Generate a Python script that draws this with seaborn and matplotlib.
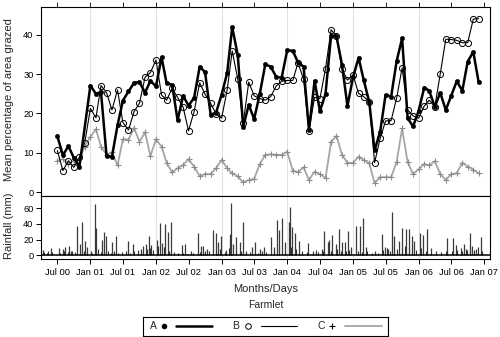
import numpy as np
import pandas as pd
import seaborn as sns
import matplotlib
matplotlib.use('Agg')
import matplotlib.pyplot as plt
import matplotlib.dates as mdates


# Mean percentage of area grazed, monthly from Jul 2000 to Dec 2006 (78 months)
meses = pd.date_range('2000-07-01', periods=78, freq='MS')

farmlet_a = [14.3, 9.4, 11.7, 8.7, 6.5, np.nan, 27.1, 25.0, 25.5, 9.2, 9.0, 17.0,
             23.3, 25.6, 27.8, 28.0, 25.3, 28.3, 26.9, 34.3, 27.7, 27.3, 18.3, 24.5,
             22.0, 24.0, 31.9, 30.5, 19.7, 20.2, 24.8, 30.3, 42.0, 34.8, 16.6, 22.2,
             18.6, 24.9, 32.5, 31.9, 29.3, 29.1, 36.1, 35.9, 33.0, 31.9, 15.8, 28.3,
             20.6, 25.0, 39.8, 39.6, 32.3, 21.9, 29.2, 34.2, 28.6, 23.0, 10.6, 15.4,
             24.7, 24.3, 33.4, 39.1, 18.8, 16.7, 20.7, 26.6, 25.8, 21.7, 25.3, 20.9,
             24.5, 28.2, 25.8, 33.2, 35.7, 27.9]

farmlet_b = [10.6, 5.5, 8.0, 6.3, 8.9, 12.6, 21.3, 18.9, 27.1, 25.3, 20.9, 26.0,
             17.7, 15.8, 20.5, 22.6, 29.2, 30.4, 33.6, 24.7, 23.4, 26.4, 24.1, 21.6,
             15.6, 20.5, 27.8, 24.9, 22.6, 19.9, 18.8, 26.0, 35.9, 28.7, 17.5, 28.0,
             24.5, 23.8, 23.4, 24.3, 27.0, 28.2, 28.4, 28.4, 32.9, 28.7, 15.6, 24.1,
             23.8, 31.4, 41.3, 39.7, 31.2, 28.5, 29.8, 25.1, 24.3, 23.0, 7.5, 13.7,
             18.1, 18.2, 24.0, 31.6, 20.9, 19.4, 18.8, 21.9, 23.4, 21.7, 30.0, 38.9,
             38.8, 38.6, 38.0, 38.0, 44.0, 44.1]

farmlet_c = [8.0, 8.4, 7.2, 8.0, 8.4, 11.6, 14.1, 16.0, 11.6, 9.5, 10.1, 6.8,
             13.5, 13.3, 16.4, 12.8, 15.2, 9.2, 13.4, 11.6, 7.5, 5.0, 6.1, 6.9,
             8.4, 6.5, 4.1, 4.6, 4.6, 6.1, 8.2, 6.1, 4.8, 4.0, 2.5, 3.1,
             3.4, 7.1, 9.5, 9.6, 9.5, 9.5, 10.3, 5.5, 5.1, 6.3, 3.1, 5.2,
             4.6, 3.6, 12.8, 14.3, 9.5, 7.4, 7.5, 9.0, 8.2, 7.4, 2.3, 3.8,
             3.8, 3.8, 7.7, 16.2, 7.6, 4.6, 5.8, 7.2, 6.8, 7.9, 4.6, 3.1,
             4.6, 4.8, 7.5, 6.5, 5.7, 4.8]

# Daily rainfall (mm), main events
chuva_datas = ['2000-04-15', '2000-05-12', '2000-05-25', '2000-07-12', '2000-07-31',
               '2000-08-13', '2000-09-02', '2000-09-17', '2000-10-17', '2000-11-04',
               '2000-11-15', '2000-12-02', '2000-12-15', '2001-01-02', '2001-01-26',
               '2001-02-01', '2001-03-04', '2001-03-19', '2001-03-28', '2001-04-29',
               '2001-05-23', '2001-07-27', '2001-08-27', '2001-09-24', '2001-10-12',
               '2001-10-22', '2001-11-09', '2001-11-22', '2001-12-07', '2002-01-07',
               '2002-01-22', '2002-02-04', '2002-02-19', '2002-03-09', '2002-03-28',
               '2002-05-26', '2002-06-12', '2002-07-17', '2002-08-23', '2002-09-08',
               '2002-09-19', '2002-10-12', '2002-11-14', '2002-11-29', '2002-12-14',
               '2002-12-28', '2003-01-27', '2003-02-14', '2003-02-22', '2003-03-05',
               '2003-03-20', '2003-04-11', '2003-04-30', '2003-05-18', '2003-06-18',
               '2003-07-03', '2003-07-31', '2003-08-24', '2003-09-30', '2003-10-17',
               '2003-11-04', '2003-11-19', '2003-12-04', '2003-12-17', '2004-01-10',
               '2004-01-17', '2004-01-28', '2004-02-16', '2004-03-09', '2004-04-24',
               '2004-05-26', '2004-06-10', '2004-07-13', '2004-07-26', '2004-08-13',
               '2004-08-23', '2004-09-04', '2004-09-28', '2004-10-17', '2004-11-01',
               '2004-11-19', '2004-12-04', '2004-12-21', '2005-01-18', '2005-02-09',
               '2005-02-23', '2005-03-14', '2005-05-05', '2005-06-11', '2005-06-29',
               '2005-07-12', '2005-08-05', '2005-08-16', '2005-09-15', '2005-10-03',
               '2005-10-22', '2005-11-06', '2005-11-24', '2005-12-04', '2006-01-08',
               '2006-01-23', '2006-02-19', '2006-03-10', '2006-04-07', '2006-06-10',
               '2006-07-12', '2006-07-27', '2006-08-23', '2006-09-11', '2006-09-29',
               '2006-10-12', '2006-10-27', '2006-11-15', '2006-12-14']
chuva_mm = [7, 5, 9, 9, 8, 10, 12, 5, 38, 15,
            42, 18, 10, 5, 65, 35, 20, 30, 25, 17,
            24, 18, 14, 7, 8, 12, 14, 25, 13, 20,
            41, 16, 40, 30, 42, 13, 15, 6, 28, 12,
            12, 8, 32, 28, 17, 24, 7, 27, 67, 14,
            23, 17, 42, 6, 11, 17, 8, 11, 23, 11,
            45, 32, 47, 17, 42, 62, 36, 28, 18, 16,
            6, 7, 8, 31, 17, 19, 26, 14, 34, 17,
            17, 31, 11, 37, 37, 48, 10, 5, 27, 10,
            8, 55, 25, 18, 35, 33, 33, 25, 18, 28,
            26, 33, 9, 5, 22, 22, 13, 9, 14, 7,
            28, 12, 8, 23]

# Daily rainfall (mm), small events
chuva_fraca_datas = ['2000-04-18', '2000-05-05', '2000-06-02', '2000-07-16', '2000-08-07',
                     '2000-08-30', '2000-09-21', '2000-10-07', '2000-11-27', '2000-12-13',
                     '2001-01-10', '2001-02-12', '2001-03-01', '2001-04-09', '2001-04-26',
                     '2001-05-12', '2001-06-04', '2001-06-26', '2001-07-18', '2001-08-09',
                     '2001-09-01', '2001-10-10', '2001-11-12', '2001-11-29', '2001-12-15',
                     '2002-01-12', '2002-02-14', '2002-03-13', '2002-04-10', '2002-05-02',
                     '2002-05-30', '2002-06-27', '2002-07-25', '2002-09-03', '2002-09-30',
                     '2002-10-23', '2002-12-01', '2002-12-23', '2003-01-20', '2003-02-11',
                     '2003-03-22', '2003-04-19', '2003-05-17', '2003-06-08', '2003-07-22',
                     '2003-08-14', '2003-09-05', '2003-10-20', '2003-11-16', '2003-12-20',
                     '2004-01-22', '2004-02-19', '2004-03-23', '2004-04-20', '2004-05-23',
                     '2004-06-20', '2004-07-18', '2004-09-01', '2004-10-04', '2004-10-26',
                     '2004-11-23', '2004-12-10', '2005-01-28', '2005-02-20', '2005-03-19',
                     '2005-04-16', '2005-05-20', '2005-06-16', '2005-07-09', '2005-07-25',
                     '2005-08-17', '2005-09-03', '2005-10-01', '2005-10-17', '2005-11-08',
                     '2005-11-25', '2005-12-17', '2006-01-14', '2006-02-11', '2006-03-11',
                     '2006-04-08', '2006-05-06', '2006-06-03', '2006-07-06', '2006-08-03',
                     '2006-08-31', '2006-09-22', '2006-10-14', '2006-11-05', '2006-11-27',
                     '2006-12-19']
chuva_fraca_mm = [4, 3, 4, 3, 5, 4, 6, 4, 6, 4,
                  3, 8, 4, 5, 3, 6, 3, 4, 5, 3,
                  6, 5, 8, 9, 7, 12, 10, 5, 4, 3,
                  3, 2, 3, 4, 5, 6, 5, 8, 4, 9,
                  6, 5, 3, 4, 3, 5, 4, 7, 9, 6,
                  10, 8, 5, 4, 3, 4, 5, 6, 8, 6,
                  5, 7, 6, 4, 5, 3, 3, 7, 9, 6,
                  10, 8, 9, 12, 10, 8, 7, 9, 6, 4,
                  3, 4, 5, 6, 7, 6, 8, 9, 7, 10,
                  6]

df = pd.DataFrame({'data': meses, 'A': farmlet_a, 'B': farmlet_b, 'C': farmlet_c})

sns.set_style('white')
plt.rcParams['font.family'] = 'Liberation Sans'

fig = plt.figure(figsize=(5, 3.37), dpi=100)
ax1 = fig.add_axes([0.0826, 0.4193, 0.8974, 0.559])
ax2 = fig.add_axes([0.0826, 0.2306, 0.8974, 0.1887], sharex=ax1)

cinza = '#A6A6A6'

# LINHAS DE GRADE EM CADA JANEIRO
for ano in range(2001, 2007):
    for ax in (ax1, ax2):
        ax.axvline(pd.Timestamp(f'{ano}-01-01'), color='#E2E2E2', lw=0.8, zorder=0)

# SÉRIES DE PASTEJO
sns.lineplot(data=df.dropna(subset=['C']), x='data', y='C', ax=ax1, color=cinza,
             lw=1.3, marker='+', markersize=4.5, markeredgewidth=0.8,
             markeredgecolor='#8C8C8C')
sns.lineplot(data=df.dropna(subset=['B']), x='data', y='B', ax=ax1, color='black',
             lw=0.8, marker='o', markersize=4.4, markeredgewidth=0.7,
             markeredgecolor='black', markerfacecolor='none')
sns.lineplot(data=df.dropna(subset=['A']), x='data', y='A', ax=ax1, color='black',
             lw=1.8, marker='o', markersize=3.2, markeredgewidth=0.3,
             markeredgecolor='black', markerfacecolor='black')

# CHUVA
ax2.vlines(pd.to_datetime(chuva_fraca_datas), 0, chuva_fraca_mm, color='#2b2b2b', lw=0.8)
ax2.vlines(pd.to_datetime(chuva_datas), 0, chuva_mm, color='#3a3a3a', lw=0.9)
ax2.axhline(0, color='black', lw=1.1)

# EIXOS
ax1.set_xlim(pd.Timestamp('2000-04-03'), pd.Timestamp('2007-02-02'))
ax1.set_ylim(-0.9, 47)
ax2.set_ylim(-5.1, 76.1)
ax1.set_yticks([0, 10, 20, 30, 40])
ax2.set_yticks([0, 20, 40, 60])
ax2.xaxis.set_major_locator(mdates.MonthLocator(bymonth=[1, 7]))
ax2.xaxis.set_major_formatter(mdates.DateFormatter('%b %y'))

for ax in (ax1, ax2):
    ax.set_xlabel('')
    ax.set_ylabel('')
    for s in ax.spines.values():
        s.set_color('black')
        s.set_linewidth(0.8)
    ax.tick_params(axis='y', left=True, right=False, direction='out', length=3.6,
                   width=0.7, pad=2, labelsize=6.7, colors='black')

ax1.tick_params(axis='x', top=True, bottom=False, labeltop=False, labelbottom=False,
                direction='out', length=3.6, width=0.7)
ax2.tick_params(axis='x', top=False, bottom=True, labelbottom=True, direction='out',
                length=3.6, width=0.7, pad=2.5, labelsize=6.7, colors='black')

fig.text(9.5 / 500, 1 - 100 / 337, 'Mean percentage of area grazed', rotation=90,
         ha='center', va='center', fontsize=8)
fig.text(9.5 / 500, 1 - 226 / 337, 'Rainfall (mm)', rotation=90,
         ha='center', va='center', fontsize=8)
fig.text(265.5 / 500, 1 - 289 / 337, 'Months/Days', ha='center', va='center', fontsize=8)
fig.text(265.5 / 500, 1 - 305 / 337, 'Farmlet', ha='center', va='center', fontsize=7.5)

# LEGENDA
leg = fig.add_axes([143.3 / 500, 1 - 335.7 / 337, 245 / 500, 18.4 / 337])
leg.set_xlim(143.3, 388.3)
leg.set_ylim(335.7, 317.3)
leg.set_xticks([])
leg.set_yticks([])
for s in leg.spines.values():
    s.set_color('black')
    s.set_linewidth(0.8)
ym = 326.5
leg.text(153, ym, 'A', ha='center', va='center', fontsize=7.5)
leg.plot([164], [ym], 'o', color='black', markersize=3)
leg.plot([176, 212], [ym, ym], color='black', lw=1.8)
leg.text(236, ym, 'B', ha='center', va='center', fontsize=7.5)
leg.plot([248], [ym], 'o', mfc='none', mec='black', markersize=4, mew=0.7)
leg.plot([261, 297], [ym, ym], color='black', lw=0.8)
leg.text(321, ym, 'C', ha='center', va='center', fontsize=7.5)
leg.plot([332], [ym], '+', color='black', markersize=5, mew=0.8)
leg.plot([345, 382], [ym, ym], color=cinza, lw=1.3)

fig.savefig('out.png', dpi=100)
